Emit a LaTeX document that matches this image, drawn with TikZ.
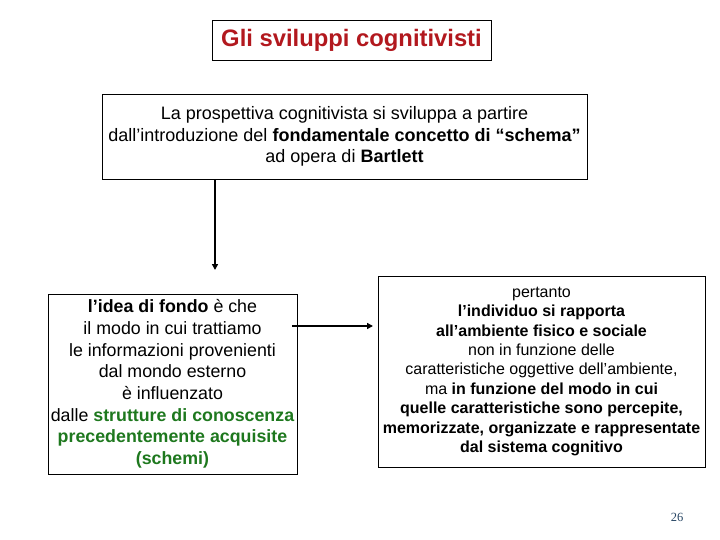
\documentclass[tikz,border=0pt]{standalone}
\usepackage{fontspec}
\setmainfont{Liberation Sans}
\newfontfamily\pagefont{Liberation Serif}
\usepackage{tikz}
\usetikzlibrary{arrows.meta}
\definecolor{titlered}{RGB}{178, 24, 30}
\definecolor{schemagreen}{RGB}{30, 120, 30}
\definecolor{pagenum}{RGB}{40, 70, 100}

\begin{document}
\begin{tikzpicture}[
  x=1pt, y=-1pt,
  box/.style={draw=black, line width=0.9pt, inner sep=0pt, align=center},
  link/.style={line width=2pt, -{Triangle[length=6pt, width=6pt]}},
]
  \useasboundingbox (0,0) rectangle (720,540);

  % --- boxes ---
  \node[box, minimum width=279, minimum height=40, text=titlered,
        font=\bfseries\fontsize{23.8}{26}\selectfont]
    (title) at (351.5,40) {Gli sviluppi cognitivisti};

  \node[box, minimum width=485, minimum height=85,
        font=\fontsize{18}{21.5}\selectfont]
    (intro) at (344.5,136.5)
    {La prospettiva cognitivista si sviluppa a partire\\
     dall’introduzione del \textbf{fondamentale concetto di “schema”}\\
     ad opera di \textbf{Bartlett}};

  \node[box, minimum width=249, minimum height=180,
        font=\fontsize{17.8}{21.7}\selectfont]
    (idea) at (172.5,384)
    {\textbf{l’idea di fondo} è che\\
     il modo in cui trattiamo\\
     le informazioni provenienti\\
     dal mondo esterno\\
     è influenzato\\
     dalle \textbf{\color{schemagreen}strutture di conoscenza}\\
     \textbf{\color{schemagreen}precedentemente acquisite}\\
     \textbf{\color{schemagreen}(schemi)}};

  \node[box, minimum width=327, minimum height=191,
        font=\fontsize{16}{19.4}\selectfont]
    (effect) at (541.5,371.5)
    {pertanto\\
     \textbf{l’individuo si rapporta}\\
     \textbf{all’ambiente fisico e sociale}\\
     non in funzione delle\\
     caratteristiche oggettive dell'ambiente,\\
     ma \textbf{in funzione del modo in cui}\\
     \textbf{quelle caratteristiche sono percepite,}\\
     \textbf{memorizzate, organizzate e rappresentate}\\
     \textbf{dal sistema cognitivo}};

  % --- arrows ---
  \coordinate (down) at (215,270);
  \coordinate (right) at (373,326);
  \draw[link] (intro.south -| down) -- (down);
  \draw[link] ([xshift=-5pt]idea.east |- right) -- (right);

  % page number
  \node[text=pagenum, font=\pagefont\fontsize{12.5}{14}\selectfont]
    (page) at (677,517) {26};
\end{tikzpicture}
\end{document}
